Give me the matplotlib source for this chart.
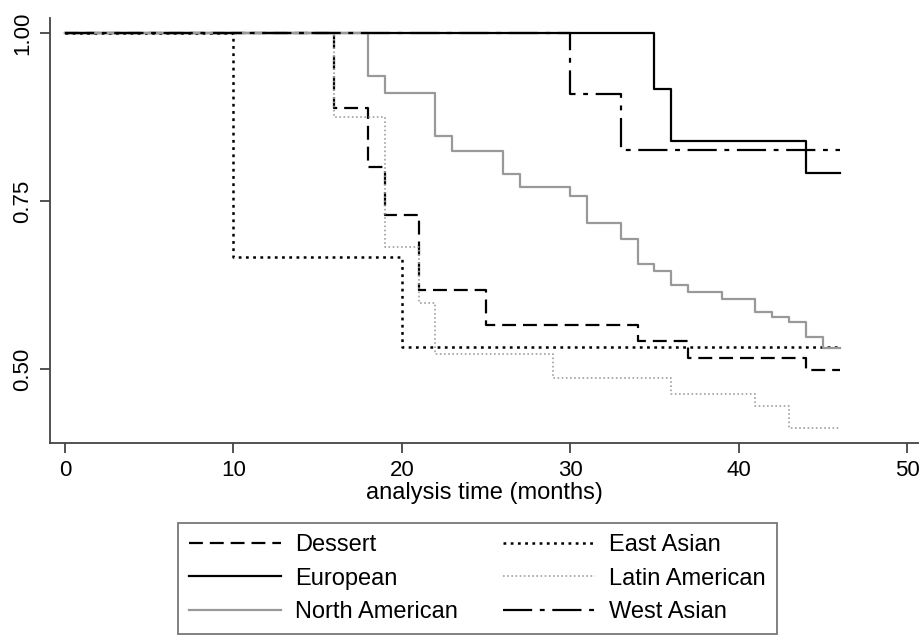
import matplotlib
matplotlib.use('Agg')
import matplotlib.pyplot as plt

plt.rcParams['font.family'] = ['Liberation Sans', 'DejaVu Sans']
plt.rcParams['lines.scale_dashes'] = False

# survival estimates (time in months, survivor fraction)
dessert_t = [0, 16, 18, 19, 21, 25, 34, 37, 44, 46]
dessert_s = [1.0, 0.889, 0.801, 0.729, 0.617, 0.565, 0.542, 0.517, 0.498, 0.498]

european_t = [0, 35, 36, 44, 46]
european_s = [1.0, 0.916, 0.840, 0.791, 0.791]

northam_t = [0, 18, 19, 22, 23, 26, 27, 30, 31, 33, 34, 35, 36, 37, 39, 41, 42, 43, 44, 45, 46]
northam_s = [1.0, 0.936, 0.910, 0.846, 0.825, 0.790, 0.771, 0.757, 0.718, 0.693, 0.657,
             0.646, 0.625, 0.614, 0.604, 0.585, 0.578, 0.570, 0.547, 0.532, 0.532]

eastas_t = [0, 10, 20, 46]
eastas_s = [1.0, 0.667, 0.533, 0.533]

latin_t = [0, 16, 19, 21, 22, 29, 36, 41, 43, 46]
latin_s = [1.0, 0.875, 0.682, 0.598, 0.523, 0.486, 0.463, 0.445, 0.413, 0.413]

westas_t = [0, 30, 33, 46]
westas_s = [1.0, 0.909, 0.826, 0.826]

fig = plt.figure(figsize=(9.19, 6.35), dpi=100)
ax = fig.add_axes([50/919, 1 - 443/635, 1 - 50/919, (443 - 18)/635])

ax.step(dessert_t, dessert_s, where='post', color='black', lw=1.6,
        linestyle=(0, (10, 5)), label='Dessert')
ax.step(eastas_t, eastas_s, where='post', color='black', lw=1.8,
        linestyle=(0, (2, 3.2)), label='East Asian')
ax.step(european_t, european_s, where='post', color='black', lw=1.6, label='European')
ax.step(latin_t, latin_s, where='post', color='#a0a0a0', lw=1.2,
        linestyle=(0, (1.2, 1.8)), label='Latin American')
ax.step(northam_t, northam_s, where='post', color='#999999', lw=1.6, label='North American')
ax.step(westas_t, westas_s, where='post', color='black', lw=1.6,
        linestyle=(0, (21, 5.5, 3.5, 5.5)), label='West Asian')

ax.set_xlim(-0.89, 50.71)
ax.set_ylim(0.39, 1.0223)
ax.set_xticks([0, 10, 20, 30, 40, 50])
ax.set_yticks([0.50, 0.75, 1.00])
ax.set_yticklabels(['0.50', '0.75', '1.00'], rotation=90, va='center')
for s in ['top', 'right']:
    ax.spines[s].set_visible(False)
for s in ['left', 'bottom']:
    ax.spines[s].set_color('#444444')
    ax.spines[s].set_linewidth(1.3)
ax.tick_params(length=7, width=1.3, color='#444444', labelsize=16, pad=5)
ax.set_xlabel('analysis time (months)', fontsize=17, labelpad=1)

# legend order follows the reference: column-wise
handles, labels = ax.get_legend_handles_labels()
order = ['Dessert', 'European', 'North American', 'East Asian', 'Latin American', 'West Asian']
hmap = dict(zip(labels, handles))
leg = fig.legend([hmap[k] for k in order], order, loc='upper left',
                 bbox_to_anchor=(178/919, 1 - 523/635), ncol=2, fontsize=17,
                 frameon=True, fancybox=False, handlelength=3.9, handletextpad=0.6,
                 columnspacing=1.9, labelspacing=0.49, borderpad=0.47, borderaxespad=0)
leg.get_frame().set_edgecolor('#555555')
leg.get_frame().set_linewidth(1.3)

fig.savefig('out.png', dpi=100)
